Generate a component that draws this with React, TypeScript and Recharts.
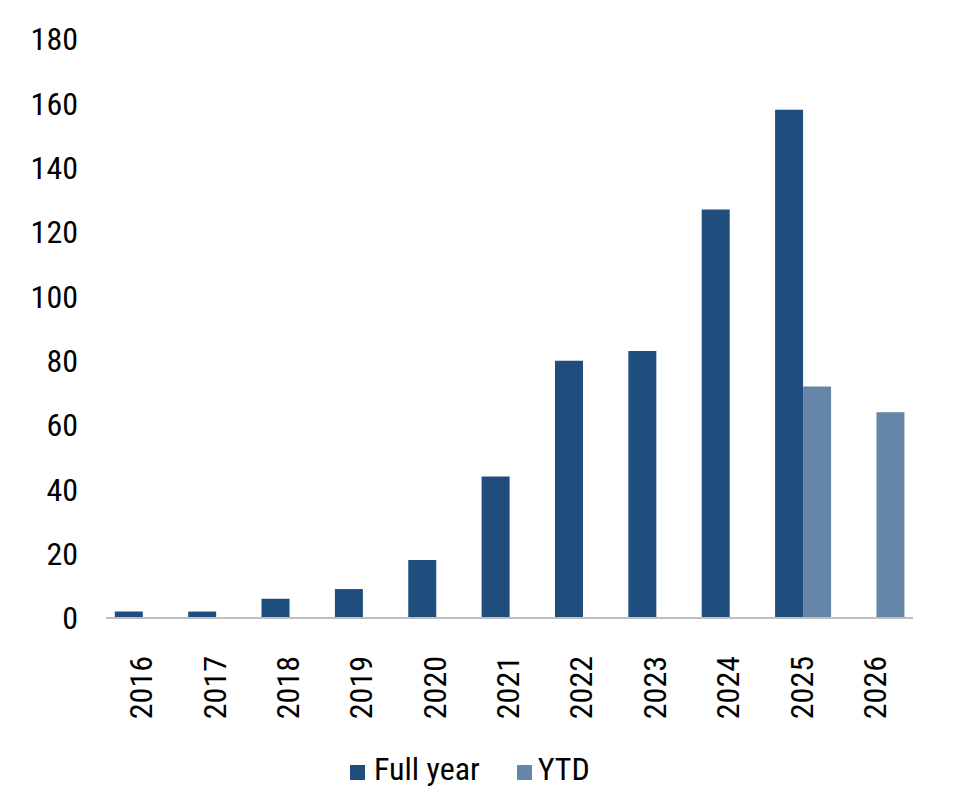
import React from 'react';
import { BarChart, Bar, XAxis, YAxis, Legend } from 'recharts';

const years = ['2016', '2017', '2018', '2019', '2020', '2021', '2022', '2023', '2024', '2025', '2026'];
const fullYear: (number | null)[] = [2, 2, 6, 9, 18, 44, 80, 83, 127, 158, null];
const ytd: (number | null)[] = [null, null, null, null, null, null, null, null, null, 72, 64];
const yTicks = [0, 20, 40, 60, 80, 100, 120, 140, 160, 180];

const data = years.map((y, i) => ({ year: y, full: fullYear[i], ytd: ytd[i] }));

const FONT = "'Liberation Sans Narrow', 'Roboto Condensed', 'Arial Narrow', Roboto, sans-serif";
const DARK = '#1F4E7E';
const LIGHT = '#6586A8';

const XTick = (props: any) => {
  const { x, y, payload } = props;
  return (
    <text
      x={x}
      y={y}
      transform={`rotate(-90 ${x} ${y})`}
      textAnchor="end"
      dy="0.3em"
      fontSize={32}
      fontFamily={FONT}
      fill="#000"
    >
      {payload.value}
    </text>
  );
};

const LegendContent = () => (
  <div
    style={{
      display: 'flex',
      alignItems: 'center',
      height: 50,
      paddingLeft: 342,
      fontFamily: FONT,
      fontSize: 32,
      color: '#000',
    }}
  >
    <span style={{ width: 15, height: 15, background: DARK, display: 'inline-block', marginTop: 6 }} />
    <span style={{ marginLeft: 9 }}>Full year</span>
    <span style={{ width: 15, height: 15, background: LIGHT, display: 'inline-block', marginLeft: 37, marginTop: 6 }} />
    <span style={{ marginLeft: 6 }}>YTD</span>
  </div>
);

export default function App() {
  return (
    <div style={{ width: 950, height: 790, background: '#fff' }}>
      <BarChart
        width={950}
        height={790}
        data={data}
        margin={{ top: 31, right: 45, bottom: 4, left: 8 }}
        barCategoryGap="12%"
        barGap={0}
      >
        <XAxis
          dataKey="year"
          axisLine={{ stroke: '#BFBFBF', strokeWidth: 2 }}
          tickLine={false}
          tickSize={0}
          tickMargin={38}
          height={126}
          interval={0}
          tick={<XTick />}
        />
        <YAxis
          domain={[0, 180]}
          ticks={yTicks}
          axisLine={false}
          tickLine={false}
          tickSize={0}
          tickMargin={28}
          width={90}
          tick={{ fontSize: 32, fontFamily: FONT, fill: '#000' }}
        />
        <Legend
          verticalAlign="bottom"
          content={<LegendContent />}
          wrapperStyle={{ left: 0, width: 950, height: 50 }}
        />
        <Bar dataKey="full" name="Full year" fill={DARK} isAnimationActive={false} />
        <Bar dataKey="ytd" name="YTD" fill={LIGHT} isAnimationActive={false} />
      </BarChart>
    </div>
  );
}
